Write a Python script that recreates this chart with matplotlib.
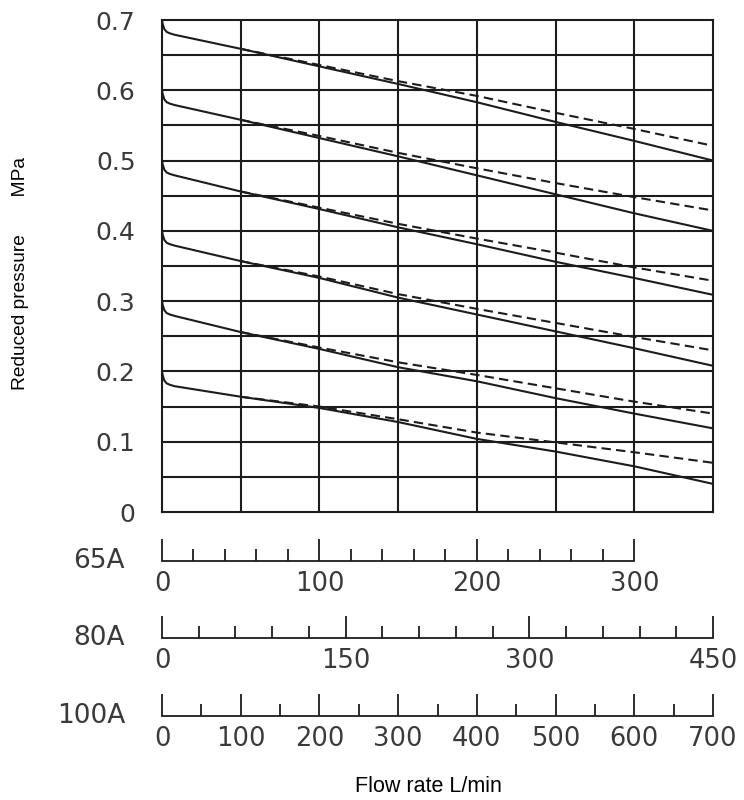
import matplotlib
matplotlib.use("Agg")
import matplotlib.pyplot as plt
import numpy as np

# ---------------- data (flow in 100A scale units, pressure in MPa) ----------------
set_pressures = [0.7, 0.6, 0.5, 0.4, 0.3, 0.2]
knee_flow = [0, 1, 3, 6, 10, 16]
knee_drop = [0.0, -0.006, -0.013, -0.017, -0.019, -0.021]
flow_pts = [100, 200, 300, 400, 500, 600, 700]

solid_vals = [
    [0.659, 0.634, 0.609, 0.583, 0.555, 0.528, 0.500],
    [0.558, 0.532, 0.506, 0.479, 0.452, 0.425, 0.400],
    [0.456, 0.431, 0.405, 0.381, 0.356, 0.333, 0.309],
    [0.357, 0.333, 0.305, 0.281, 0.257, 0.233, 0.208],
    [0.256, 0.232, 0.206, 0.186, 0.162, 0.140, 0.119],
    [0.164, 0.148, 0.128, 0.104, 0.086, 0.065, 0.040],
]
dashed_vals = [
    [0.659, 0.636, 0.613, 0.592, 0.568, 0.545, 0.521],
    [0.558, 0.535, 0.511, 0.489, 0.468, 0.448, 0.429],
    [0.456, 0.433, 0.410, 0.389, 0.369, 0.348, 0.329],
    [0.357, 0.335, 0.310, 0.289, 0.269, 0.249, 0.230],
    [0.256, 0.234, 0.213, 0.195, 0.176, 0.157, 0.140],
    [0.164, 0.150, 0.132, 0.113, 0.099, 0.085, 0.070],
]

y_ticks = [0, 0.1, 0.2, 0.3, 0.4, 0.5, 0.6, 0.7]
y_ticklabels = ["0", "0.1", "0.2", "0.3", "0.4", "0.5", "0.6", "0.7"]

scale_names = ["65A", "80A", "100A"]
scale_max = [300, 450, 700]
scale_span = [350, 450, 700]          # value at right edge of the chart
scale_major = [[0, 100, 200, 300], [0, 150, 300, 450], [0, 100, 200, 300, 400, 500, 600, 700]]
scale_minor_step = [20, 30, 50]

# ---------------- style ----------------
LC = "#1c1c1c"
TC = "#3a3a3a"
NUMF = ["DejaVu Sans"]
SANS = ["Liberation Sans", "DejaVu Sans"]

W, H = 744, 800
fig = plt.figure(figsize=(W / 100, H / 100), dpi=100)

L, R = 162 / W, 713 / W
ax = fig.add_axes([L, 1 - 512 / H, R - L, (512 - 20) / H])
ax.set_xlim(0, 700)
ax.set_ylim(0, 0.7)
for y in np.arange(0.05, 0.7, 0.05):
    ax.axhline(y, color=LC, lw=1.5, zorder=1)
for x in range(100, 700, 100):
    ax.axvline(x, color=LC, lw=1.5, zorder=1)
for s in ax.spines.values():
    s.set_linewidth(1.5)
    s.set_color(LC)

for p, sv, dv in zip(set_pressures, solid_vals, dashed_vals):
    xs = list(knee_flow) + flow_pts
    ys = [p + d for d in knee_drop] + sv
    ax.plot(xs, ys, color=LC, lw=1.5, zorder=3, solid_capstyle="butt")
    ax.plot(flow_pts, dv, color=LC, lw=1.5, ls=(0, (4.5, 2.5)), zorder=3)

ax.set_xticks([])
ax.set_yticks(y_ticks)
ax.set_yticklabels(y_ticklabels, fontfamily=NUMF, fontsize=18, color=TC)
ax.tick_params(axis="y", length=0, pad=19)

fig.text(21 / W, 1 - 273 / H, "Reduced pressure       MPa", rotation=90,
         ha="center", va="center", fontsize=13.8, fontfamily=SANS, color="black")

# ---------------- flow rate scales ----------------
baselines = [561, 638, 716]
for name, base, smax, span, majors, mstep in zip(scale_names, baselines, scale_max,
                                                 scale_span, scale_major, scale_minor_step):
    sa = fig.add_axes([L, 1 - base / H, R - L, 0.04])
    sa.patch.set_visible(False)
    sa.set_xlim(0, span)
    sa.set_ylim(0, 1)
    for k in ["top", "left", "right"]:
        sa.spines[k].set_visible(False)
    sa.spines["bottom"].set_bounds(0, smax)
    sa.spines["bottom"].set_linewidth(1.3)
    sa.spines["bottom"].set_color(LC)
    sa.set_yticks([])
    sa.set_xticks(majors)
    sa.set_xticklabels([str(m) for m in majors], fontfamily=NUMF, fontsize=18.5, color=TC)
    sa.set_xticks(np.arange(0, smax + 1, mstep), minor=True)
    sa.tick_params(axis="x", which="major", direction="in", length=16, width=1.3,
                   color=LC, pad=7)
    sa.tick_params(axis="x", which="minor", direction="in", length=8.5, width=1.3,
                   color=LC)
    sa.text(-0.067, 0.0, name, transform=sa.transAxes, ha="right", va="center",
            fontfamily=NUMF, fontsize=19, color=TC)

fig.text(428 / W, 1 - 787 / H, "Flow rate L/min", ha="center", va="center",
         fontsize=15.5, fontfamily=SANS, color="black")

fig.savefig("out.png", dpi=100, facecolor="white")
